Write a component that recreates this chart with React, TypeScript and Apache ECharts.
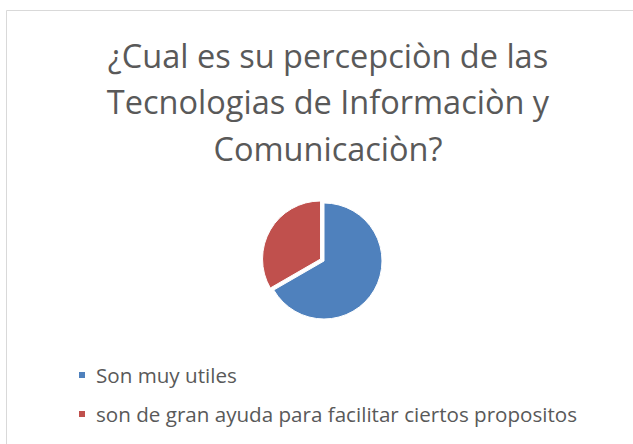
import React, { useEffect, useRef } from "react";
import * as echarts from "echarts";

const titleLines = [
  "¿Cual es su percepciòn de las",
  "Tecnologias de Informaciòn y",
  "Comunicaciòn?",
];
const categories = [
  "Son muy utiles",
  "son de gran ayuda para facilitar ciertos propositos",
];
const values = [20, 10];
const colors = ["#4F81BD", "#C0504D"];

export default function App() {
  const ref = useRef<HTMLDivElement>(null);
  useEffect(() => {
    const chart = echarts.init(ref.current!, null, { renderer: "svg" });
    const font = "'Open Sans', Lato, sans-serif";
    chart.setOption({
      animation: false,
      backgroundColor: "#FFFFFF",
      title: {
        text: titleLines.join("\n"),
        left: 323,
        top: 27,
        textAlign: "center",
        textStyle: {
          fontFamily: font,
          fontSize: 32.5,
          fontWeight: "normal",
          color: "#595959",
          lineHeight: 46.5,
          align: "center",
        },
      },
      legend: {
        orient: "vertical",
        left: 72,
        top: 359,
        icon: "rect",
        itemWidth: 8,
        itemHeight: 8,
        itemGap: 17,
        selectedMode: false,
        data: categories,
        textStyle: {
          fontFamily: font,
          fontSize: 20.6,
          color: "#595959",
          lineHeight: 22,
          padding: [0, 0, 0, 5],
        },
      },
      graphic: [
        {
          type: "rect",
          shape: { x: 6.5, y: 10.5, width: 700, height: 500 },
          style: { fill: "none", stroke: "#D9D9D9", lineWidth: 1 },
          silent: true,
        },
      ],
      series: [
        {
          type: "pie",
          center: [324, 261],
          radius: 58,
          startAngle: 90,
          clockwise: true,
          selectedMode: "single",
          selectedOffset: 4,
          label: { show: false },
          labelLine: { show: false },
          emphasis: { disabled: true },
          itemStyle: { borderColor: "#FFFFFF", borderWidth: 1 },
          data: categories.map((name, i) => ({
            name,
            value: values[i],
            selected: i === 1,
            itemStyle: { color: colors[i] },
          })),
        },
      ],
    });
    return () => chart.dispose();
  }, []);
  return (
    <div
      ref={ref}
      style={{ position: "fixed", left: 0, top: 0, width: 633, height: 444 }}
    />
  );
}
